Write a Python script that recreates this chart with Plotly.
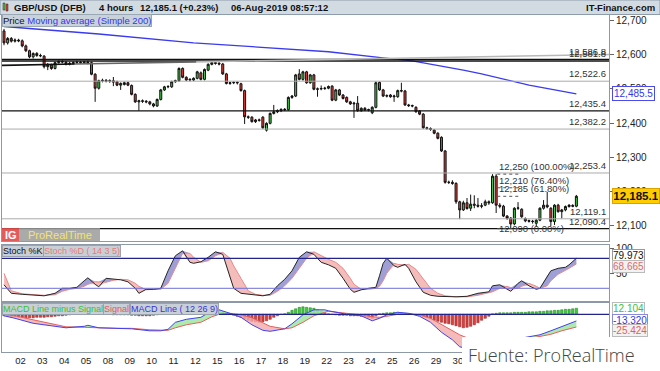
import plotly.graph_objects as go
from plotly.subplots import make_subplots

# ---------------- data (GBP/USD 4h, prices x10000) ----------------
opens = [12670,12635,12648,12640,12643,12641,12626,12612,12594,12604,
         12598,12596,12565,12570,12560,12577,12580,12578,12572,12575,
         12577,12578,12577,12579,12577,12543,12502,12524,12525,12523,
         12524,12521,12511,12513,12518,12510,12484,12462,12465,12464,
         12462,12456,12450,12469,12497,12506,12506,12521,12524,12560,
         12534,12526,12526,12531,12547,12528,12555,12572,12577,12575,
         12573,12544,12516,12518,12519,12515,12495,12418,12417,12404,
         12409,12417,12379,12399,12428,12433,12436,12440,12439,12475,
         12479,12544,12528,12550,12518,12541,12499,12500,12501,12502,
         12508,12467,12497,12482,12475,12462,12456,12458,12436,12443,
         12438,12430,12446,12519,12497,12479,12482,12477,12477,12495,
         12494,12453,12451,12446,12435,12426,12386,12384,12379,12370,
         12358,12318,12226,12226,12223,12169,12145,12166,12150,12162,
         12159,12156,12159,12169,12166,12244,12159,12156,12127,12121,
         12104,12150,12147,12120,12114,12112,12106,12115,12150,12159,
         12150,12111,12159,12140,12145,12155,12158,12156]
highs = [12676,12652,12652,12648,12647,12645,12630,12615,12607,12608,
         12603,12599,12576,12574,12580,12584,12584,12582,12579,12581,
         12582,12582,12582,12583,12580,12546,12527,12530,12529,12528,
         12535,12524,12519,12521,12521,12513,12487,12468,12469,12467,
         12465,12459,12472,12500,12509,12511,12524,12527,12563,12563,
         12537,12531,12534,12553,12551,12560,12575,12581,12580,12579,
         12576,12547,12521,12522,12522,12518,12498,12422,12420,12412,
         12413,12420,12402,12431,12453,12440,12443,12444,12478,12482,
         12544,12558,12553,12553,12544,12544,12504,12510,12506,12510,
         12511,12500,12500,12485,12478,12465,12462,12479,12446,12447,
         12442,12449,12522,12522,12500,12484,12485,12483,12498,12518,
         12497,12456,12454,12449,12438,12429,12389,12387,12382,12373,
         12361,12321,12231,12232,12226,12172,12172,12180,12190,12188,
         12180,12165,12175,12173,12250,12250,12165,12160,12130,12124,
         12153,12168,12150,12123,12117,12116,12118,12153,12174,12198,
         12153,12162,12163,12148,12158,12162,12162,12189]
lows = [12628,12630,12636,12636,12637,12622,12608,12590,12589,12594,
        12593,12560,12555,12556,12557,12574,12575,12569,12569,12572,
        12574,12574,12573,12572,12540,12462,12498,12519,12519,12518,
        12508,12508,12497,12510,12508,12481,12459,12436,12459,12458,
        12452,12446,12447,12466,12494,12502,12503,12518,12521,12531,
        12523,12522,12523,12528,12525,12525,12552,12569,12571,12569,
        12541,12513,12512,12514,12513,12492,12397,12412,12401,12400,
        12404,12383,12375,12396,12425,12429,12432,12435,12436,12471,
        12476,12525,12524,12515,12515,12496,12477,12496,12497,12499,
        12464,12464,12479,12469,12459,12453,12415,12433,12433,12435,
        12434,12426,12443,12494,12476,12475,12474,12462,12474,12490,
        12450,12447,12446,12430,12423,12383,12380,12377,12367,12352,
        12315,12222,12221,12219,12163,12118,12142,12146,12142,12150,
        12152,12150,12156,12160,12163,12136,12150,12124,12116,12090,
        12100,12145,12122,12109,12108,12105,12095,12112,12146,12150,
        12098,12101,12137,12120,12141,12152,12153,12153]
closes = [12635,12648,12640,12643,12641,12626,12612,12594,12604,12598,
          12597,12565,12570,12560,12577,12580,12579,12572,12575,12577,
          12578,12577,12579,12577,12543,12502,12524,12525,12523,12524,
          12520,12511,12516,12518,12511,12484,12462,12465,12464,12462,
          12456,12450,12469,12497,12506,12507,12521,12524,12560,12534,
          12526,12528,12531,12550,12528,12557,12572,12577,12575,12573,
          12544,12516,12518,12519,12518,12495,12418,12417,12404,12409,
          12408,12386,12399,12428,12433,12436,12440,12439,12475,12479,
          12541,12528,12550,12518,12541,12499,12500,12501,12502,12507,
          12467,12497,12482,12472,12462,12456,12458,12436,12443,12438,
          12439,12446,12518,12497,12479,12480,12477,12479,12495,12494,
          12453,12451,12450,12433,12426,12386,12384,12381,12370,12355,
          12318,12226,12226,12223,12169,12145,12166,12149,12162,12159,
          12156,12157,12169,12166,12244,12159,12156,12127,12120,12104,
          12150,12151,12125,12113,12112,12111,12115,12150,12159,12154,
          12111,12159,12140,12145,12155,12159,12156,12185.1]

day_start = [4,10,16,22,28,34,40,46,52,58,64,70,76,82,88,94,100,106,112,118,124,130,136,142,148,154]
day_labels = ["02","03","04","05","08","09","10","11","12","15","16","17","18","19",
              "22","23","24","25","26","29","30","31","01","02","05","06"]

price_ticks = [12100,12200,12300,12400,12500,12600,12700]

ma_idx = [0,26,52,78,89,104,112,126,131,144,157]
ma_val = [12683,12661,12635,12617,12609,12591,12582,12555,12544,12511,12485.5]

level_vals = [12586.8,12581.8,12522.6,12435.4,12382.2,12253.4,12119.1,12090.4]
level_dark = [True,True,False,True,False,False,False,True]
trend_vals = [12569,12601]

fib_vals = [12250,12210,12185,12090]
fib_pcts = ["100.00%","76.40%","61.80%","0.00%"]

stoch_idx = [0,2,5,8,11,14,16,18,20,22,23,25,26,28,30,32,34,36,37,39,
             41,43,45,47,49,51,52,54,56,58,60,62,63,65,67,69,71,73,75,77,
             79,81,83,85,87,89,91,93,95,96,98,100,102,103,104,105,107,108,110,111,
             113,115,117,119,121,124,127,130,133,134,136,138,139,141,142,144,146,147,149,150,
             152,154,155,157]
stoch_k = [27,10,8,7,5,10,20,20,22,35,41,28,23,40,38,37,33,20,10,18,
           18,20,55,85,95,72,70,73,82,93,88,40,20,10,8,7,5,8,25,38,
           55,82,93,88,72,67,60,40,18,12,17,20,22,45,70,80,65,62,68,60,
           33,12,6,4,3,3,4,10,13,25,27,18,14,30,35,25,18,20,45,55,
           60,62,67,79.973]
stoch_d = [50,15,9,8,6,7,14,18,20,24,28,33,33,32,36,38,37,30,24,17,
           18,18,30,60,90,90,82,72,75,85,92,80,65,40,15,8,6,6,14,25,
           40,60,80,93,85,78,72,60,40,28,18,18,20,24,35,50,70,68,66,68,
           58,40,20,10,5,3,3,6,11,13,20,24,21,20,24,30,24,20,25,35,
           48,57,60,68.665]
stoch_bands = [80,20]

macd_idx = [0,3,8,13,17,22,23,26,31,35,40,43,45,47,50,54,57,59,62,65,
            68,71,73,77,79,82,85,88,89,94,98,101,103,105,108,111,114,117,120,123,
            125,128,131,134,137,140,143,147,150,153,155,157]
macd_line = [-3,-8,-18,-23,-27,-24,-22,-27,-28,-29,-33,-33,-30,-16,-10,-6,7,9,2,-6,
             -21,-32,-34,-29,-19,-1,9,9,7,0,-3,-13,-8,-1,4,2,-4,-16,-36,-51,
             -65,-70,-66,-58,-54,-50,-46,-41,-33,-25,-19,-13.32]
macd_signal = [0,-3,-11,-18,-25,-26,-26,-27,-28,-28,-31,-32,-32,-27,-21,-16,-5,0,2,-1,
               -7,-17,-24,-29,-27,-16,-3,4,6,2,-1,-5,-6,-4,0,1,-1,-8,-20,-33,
               -41,-50,-56,-58,-57,-54,-50,-45,-40,-33,-29,-25.424]
macd_hist = [-3,-4,-5,-5,-6,-6,-7,-7,-7,-6,
             -6,-6,-5,-5,-4,-3,-3,-2,-1,0,
             1,1,2,3,2,1,0,0,0,0,
             -1,-1,-1,-1,-1,-2,-2,-3,-3,-3,
             -3,-2,-1,0,1,3,7,10,11,11,
             11,11,10,10,10,11,12,12,10,8,
             5,2,0,-2,-4,-6,-9,-12,-14,-15,
             -16,-15,-13,-10,-6,-3,0,1,4,8,
             11,14,15,14,13,12,9,6,3,1,
             0,-1,-2,-2,-2,-3,-3,-3,-4,-5,
             -7,-8,-3,1,2,3,3,4,4,3,
             2,1,0,-1,-3,-5,-7,-9,-12,-14,
             -16,-18,-19,-21,-23,-25,-27,-26,-24,-21,
             -17,-12,-8,-4,1,2,3,3,3,3,
             4,4,4,4,5,5,5,6,6,7,
             7,8,8,9,10,10,11,12.104]

last_price = 12185.1
last_change = "+0.23%"
timestamp = "06-Aug-2019 08:57:12"

# ---------------- geometry helpers ----------------
W, H = 660, 371
ML, MR, MT, MB = 2, 51, 15, 19
PW = W - ML - MR
PH = H - MT - MB
def PX(x): return (x - ML) / PW
def PY(y): return (H - MB - y) / PH

FONT = "Liberation Sans, Arial, sans-serif"
x_idx = list(range(len(closes)))
X_RANGE = [-0.55, 165.95]
OVERLAY_IDX = 126   # day labels right of this sit under the source overlay

fig = make_subplots(rows=3, cols=1, shared_xaxes=True, vertical_spacing=0.02)

# price
fig.add_trace(go.Scatter(x=ma_idx, y=ma_val, mode="lines", line=dict(color="#3a3af0", width=1.3),
                         hoverinfo="skip"), row=1, col=1)
fig.add_trace(go.Candlestick(x=x_idx, open=opens, high=highs, low=lows, close=closes,
                             increasing=dict(fillcolor="#45c645", line=dict(color="#111111", width=1)),
                             decreasing=dict(fillcolor="#e33b36", line=dict(color="#111111", width=1)),
                             whiskerwidth=0), row=1, col=1)

# stochastic
k_hi = [max(a, b) for a, b in zip(stoch_k, stoch_d)]
k_lo = [min(a, b) for a, b in zip(stoch_k, stoch_d)]
fig.add_trace(go.Scatter(x=stoch_idx, y=stoch_d, mode="lines", line=dict(width=0), hoverinfo="skip"), row=2, col=1)
fig.add_trace(go.Scatter(x=stoch_idx, y=k_hi, mode="lines", line=dict(width=0), fill="tonexty",
                         fillcolor="rgba(135,135,205,0.8)", hoverinfo="skip"), row=2, col=1)
fig.add_trace(go.Scatter(x=stoch_idx, y=stoch_d, mode="lines", line=dict(width=0), hoverinfo="skip"), row=2, col=1)
fig.add_trace(go.Scatter(x=stoch_idx, y=k_lo, mode="lines", line=dict(width=0), fill="tonexty",
                         fillcolor="rgba(242,165,165,0.75)", hoverinfo="skip"), row=2, col=1)
fig.add_trace(go.Scatter(x=stoch_idx, y=stoch_d, mode="lines", line=dict(color="#e88a8a", width=1)), row=2, col=1)
fig.add_trace(go.Scatter(x=stoch_idx, y=stoch_k, mode="lines", line=dict(color="#262626", width=1)), row=2, col=1)

# MACD
hist_colors = ["#3ccc3c" if v >= 0 else "#dd3c3c" for v in macd_hist]
hist_edges = ["#1f7f1f" if v >= 0 else "#8a1f1f" for v in macd_hist]
fig.add_trace(go.Bar(x=x_idx, y=macd_hist, marker=dict(color=hist_colors, line=dict(color=hist_edges, width=0.5)),
                     hoverinfo="skip"), row=3, col=1)
m_hi = [max(a, b) for a, b in zip(macd_line, macd_signal)]
m_lo = [min(a, b) for a, b in zip(macd_line, macd_signal)]
fig.add_trace(go.Scatter(x=macd_idx, y=macd_signal, mode="lines", line=dict(width=0), hoverinfo="skip"), row=3, col=1)
fig.add_trace(go.Scatter(x=macd_idx, y=m_hi, mode="lines", line=dict(width=0), fill="tonexty",
                         fillcolor="rgba(160,230,160,0.85)", hoverinfo="skip"), row=3, col=1)
fig.add_trace(go.Scatter(x=macd_idx, y=macd_signal, mode="lines", line=dict(width=0), hoverinfo="skip"), row=3, col=1)
fig.add_trace(go.Scatter(x=macd_idx, y=m_lo, mode="lines", line=dict(width=0), fill="tonexty",
                         fillcolor="rgba(243,170,170,0.8)", hoverinfo="skip"), row=3, col=1)
fig.add_trace(go.Scatter(x=macd_idx, y=macd_signal, mode="lines", line=dict(color="#e46060", width=1)), row=3, col=1)
fig.add_trace(go.Scatter(x=macd_idx, y=macd_line, mode="lines", line=dict(color="#4040f0", width=1)), row=3, col=1)

# ---------------- layout ----------------
price_top = 12700 + (20.7 - 15) / 0.341
price_bot = 12700 - (241 - 20.7) / 0.341
fig.update_layout(width=W, height=H, margin=dict(l=ML, r=MR, t=MT, b=MB),
                  paper_bgcolor="white", plot_bgcolor="white", showlegend=False,
                  font=dict(family=FONT, size=10, color="#222"), boxgap=0.22, bargap=0.35)
fig.update_xaxes(range=X_RANGE, showgrid=False, zeroline=False, showline=True, linecolor="#8d99a6",
                 mirror=True, rangeslider_visible=False, ticks="")
vis = [(d + 0.5, lab) for d, lab in zip(day_start, day_labels) if d < OVERLAY_IDX]
fig.update_xaxes(tickvals=[v for v, _ in vis], ticktext=[l for _, l in vis], showticklabels=True,
                 tickfont=dict(size=9.5, color="#222"), row=3, col=1)
axis_common = dict(side="right", showgrid=False, zeroline=False, showline=True, linecolor="#8d99a6",
                   mirror=True, ticks="outside", ticklen=4, tickcolor="#666",
                   tickfont=dict(size=10, color="#222"))
fig.update_layout(
    yaxis=dict(domain=[PY(241), PY(15)], range=[price_bot, price_top], tickvals=price_ticks,
               ticktext=[f"{v:,}" for v in price_ticks], **axis_common),
    yaxis2=dict(domain=[PY(300.7), PY(245)], range=[-4.8, 106.6], tickvals=[50, 100], **axis_common),
    yaxis3=dict(domain=[PY(352), PY(303.3)], range=[-75.4, 22], tickvals=[-50], **axis_common),
)

shapes = []
ann = []

# price level lines
for v, dark in zip(level_vals, level_dark):
    shapes.append(dict(type="line", xref="x domain", yref="y", x0=0, x1=1, y0=v, y1=v,
                       line=dict(color="#111" if dark else "#aaaaaa", width=1.3 if dark else 1)))
    ann.append(dict(xref="paper", yref="y", x=1, y=v, xanchor="right", yanchor="bottom", xshift=-1,
                    text=f"{v:,.1f}", showarrow=False, font=dict(size=9.5, color="#333")))
# sloped line (gradient approximated by segments)
fr = [0, 0.12, 0.32, 1]
cols = ["#111111", "#666666", "#b8b8b8"]
for a, b, c in zip(fr[:-1], fr[1:], cols):
    ya = trend_vals[0] + (trend_vals[1] - trend_vals[0]) * a
    yb = trend_vals[0] + (trend_vals[1] - trend_vals[0]) * b
    shapes.append(dict(type="line", xref="x domain", yref="y", x0=a, x1=b, y0=ya, y1=yb,
                       line=dict(color=c, width=1.6)))
# fibonacci
for v, p in zip(fib_vals, fib_pcts):
    shapes.append(dict(type="line", xref="x", yref="y", x0=135.3, x1=141.5, y0=v, y1=v,
                       line=dict(color="#555", width=1, dash="dot")))
    ann.append(dict(xref="x", yref="y", x=135.3, y=v, xanchor="left",
                    yanchor="middle" if p == "0.00%" else "bottom",
                    text=f"{v:,} ({p})", showarrow=False, font=dict(size=9.5, color="#333")))

# indicator reference lines
for v, c, w in zip(stoch_bands, ["#23238c", "#7070d8"], [1.3, 1]):
    shapes.append(dict(type="line", xref="x2 domain", yref="y2", x0=0, x1=1, y0=v, y1=v,
                       line=dict(color=c, width=w)))
shapes.append(dict(type="line", xref="x3 domain", yref="y3", x0=0, x1=1, y0=0, y1=0,
                   line=dict(color="#23238c", width=1.3)))

# header bar
shapes.append(dict(type="rect", xref="paper", yref="paper", x0=PX(0), x1=PX(660), y0=PY(14.5), y1=PY(0),
                   fillcolor="#d3dbe2", line=dict(color="#8c9cab", width=1), layer="above"))
shapes.append(dict(type="rect", xref="paper", yref="paper", x0=PX(3), x1=PX(5), y0=PY(10), y1=PY(3),
                   fillcolor="#45c645", line=dict(color="#222", width=0.5), layer="above"))
shapes.append(dict(type="rect", xref="paper", yref="paper", x0=PX(6), x1=PX(8), y0=PY(11), y1=PY(4),
                   fillcolor="#e33b36", line=dict(color="#222", width=0.5), layer="above"))
hdr_y = PY(7.3)
for txt, xp in [("GBP/USD (DFB)", 12), ("4 hours", 97), (f"{last_price:,.1f} ({last_change})", 138),
                (timestamp, 229)]:
    ann.append(dict(xref="paper", yref="paper", x=PX(xp), y=hdr_y, xanchor="left", yanchor="middle",
                    text=f"<b>{txt}</b>", showarrow=False, font=dict(size=9.5, color="#111")))
ann.append(dict(xref="paper", yref="paper", x=PX(657), y=hdr_y, xanchor="right", yanchor="middle",
                text="<b>IT-Finance.com</b>", showarrow=False, font=dict(size=9.5, color="#111")))

# legends
ann.append(dict(xref="paper", yref="paper", x=PX(2), y=PY(20.8), xanchor="left", yanchor="middle",
                text="Price <span style='color:#3535f0'>Moving average (Simple 200)</span>", showarrow=False,
                bgcolor="#c9d2db", bordercolor="#9aa8b6", borderwidth=1, borderpad=0,
                font=dict(size=9.5, color="#111")))
for txt, xp, c in [("Stoch %K", 2, "#111"), ("Stoch %D ( 14 3 5)", 43, "#e97a7a")]:
    ann.append(dict(xref="paper", yref="paper", x=PX(xp), y=PY(250.5), xanchor="left", yanchor="middle",
                    text=txt, showarrow=False, bgcolor="#c9cfd6", bordercolor="#9aa3ad", borderwidth=1,
                    borderpad=0, font=dict(size=9, color=c)))
for txt, xp, c in [("MACD Line minus Signal", 2, "#36bf36"), ("Signal", 103, "#e25858"),
                   ("MACD Line ( 12 26 9)", 130, "#3535e0")]:
    ann.append(dict(xref="paper", yref="paper", x=PX(xp), y=PY(309), xanchor="left", yanchor="middle",
                    text=txt, showarrow=False, bgcolor="#c9cfd6", bordercolor="#9aa3ad", borderwidth=1,
                    borderpad=0, font=dict(size=9, color=c)))

# ProRealTime logo
shapes.append(dict(type="rect", xref="paper", yref="paper", x0=PX(2), x1=PX(19), y0=PY(241), y1=PY(228),
                   fillcolor="#e04a4a", line=dict(width=0), layer="above", opacity=0.9))
shapes.append(dict(type="rect", xref="paper", yref="paper", x0=PX(19), x1=PX(100), y0=PY(241), y1=PY(228),
                   fillcolor="#9b9b9b", line=dict(width=0), layer="above", opacity=0.85))
ann.append(dict(xref="paper", yref="paper", x=PX(10.5), y=PY(234.5), xanchor="center", yanchor="middle",
                text="<b>IG</b>", showarrow=False, font=dict(size=11, color="white")))
ann.append(dict(xref="paper", yref="paper", x=PX(59.5), y=PY(234.5), xanchor="center", yanchor="middle",
                text="ProRealTime", showarrow=False, font=dict(size=11, color="#f3e46a")))

# right-side value boxes
ann.append(dict(xref="paper", yref="y", x=1, xshift=3, y=ma_val[-1], xanchor="left", yanchor="middle",
                text=f"{ma_val[-1]:,.1f}", showarrow=False, bgcolor="white", bordercolor="#4a4af0",
                borderwidth=1, borderpad=1, font=dict(size=10, color="#3535ee")))
ann.append(dict(xref="paper", yref="y", x=1, xshift=3, y=last_price, xanchor="left", yanchor="middle",
                text=f"<b>{last_price:,.1f}</b>", showarrow=False, bgcolor="#ffcc00", bordercolor="#d9a400",
                borderwidth=1, borderpad=1, width=44, font=dict(size=11.5, color="#111")))
ann.append(dict(xref="paper", yref="y2", x=1, xshift=3, y=stoch_k[-1], yshift=3, xanchor="left",
                yanchor="middle", text=f"{stoch_k[-1]:.3f}", showarrow=False, bgcolor="white",
                bordercolor="#999", borderwidth=1, borderpad=0, font=dict(size=10, color="#111")))
ann.append(dict(xref="paper", yref="y2", x=1, xshift=3, y=stoch_d[-1], yshift=-3, xanchor="left",
                yanchor="middle", text=f"{stoch_d[-1]:.3f}", showarrow=False, bgcolor="#f2f2f2",
                bordercolor="#bbb", borderwidth=1, borderpad=0, font=dict(size=10, color="#e06a6a")))
ann.append(dict(xref="paper", yref="y3", x=1, xshift=3, y=macd_hist[-1], xanchor="left",
                yanchor="middle", text=f"{macd_hist[-1]:.3f}", showarrow=False, bgcolor="white",
                bordercolor="#bbb", borderwidth=1, borderpad=0, font=dict(size=10, color="#3cbf3c")))
ann.append(dict(xref="paper", yref="y3", x=1, xshift=3, y=macd_line[-1], xanchor="left",
                yanchor="middle", text=f"{macd_line[-1]:.3f}", showarrow=False, bgcolor="white",
                bordercolor="#8888dd", borderwidth=1, borderpad=0, font=dict(size=10, color="#3535e0")))
ann.append(dict(xref="paper", yref="y3", x=1, xshift=3, y=macd_signal[-1], yshift=-3, xanchor="left",
                yanchor="middle", text=f"{macd_signal[-1]:.3f}", showarrow=False, bgcolor="#f2f2f2",
                bordercolor="#bbb", borderwidth=1, borderpad=0, font=dict(size=10, color="#e06060")))

# source overlay
shapes.append(dict(type="rect", xref="paper", yref="paper", x0=PX(462), x1=PX(662), y0=PY(373), y1=PY(337),
                   fillcolor="white", line=dict(width=0), layer="above"))
ann.append(dict(xref="paper", yref="paper", x=PX(466), y=PY(354.5), xanchor="left", yanchor="middle",
                text="Fuente: ProRealTime", showarrow=False,
                font=dict(size=18, color="#444", family="Open Sans, Lato, sans-serif", weight=300)))

fig.update_layout(shapes=shapes, annotations=ann)
fig.write_html("out.html", config={"displayModeBar": False},
               post_script="document.body.style.margin='0px';document.body.style.padding='0px';"
                           "document.body.style.overflow='hidden';")
